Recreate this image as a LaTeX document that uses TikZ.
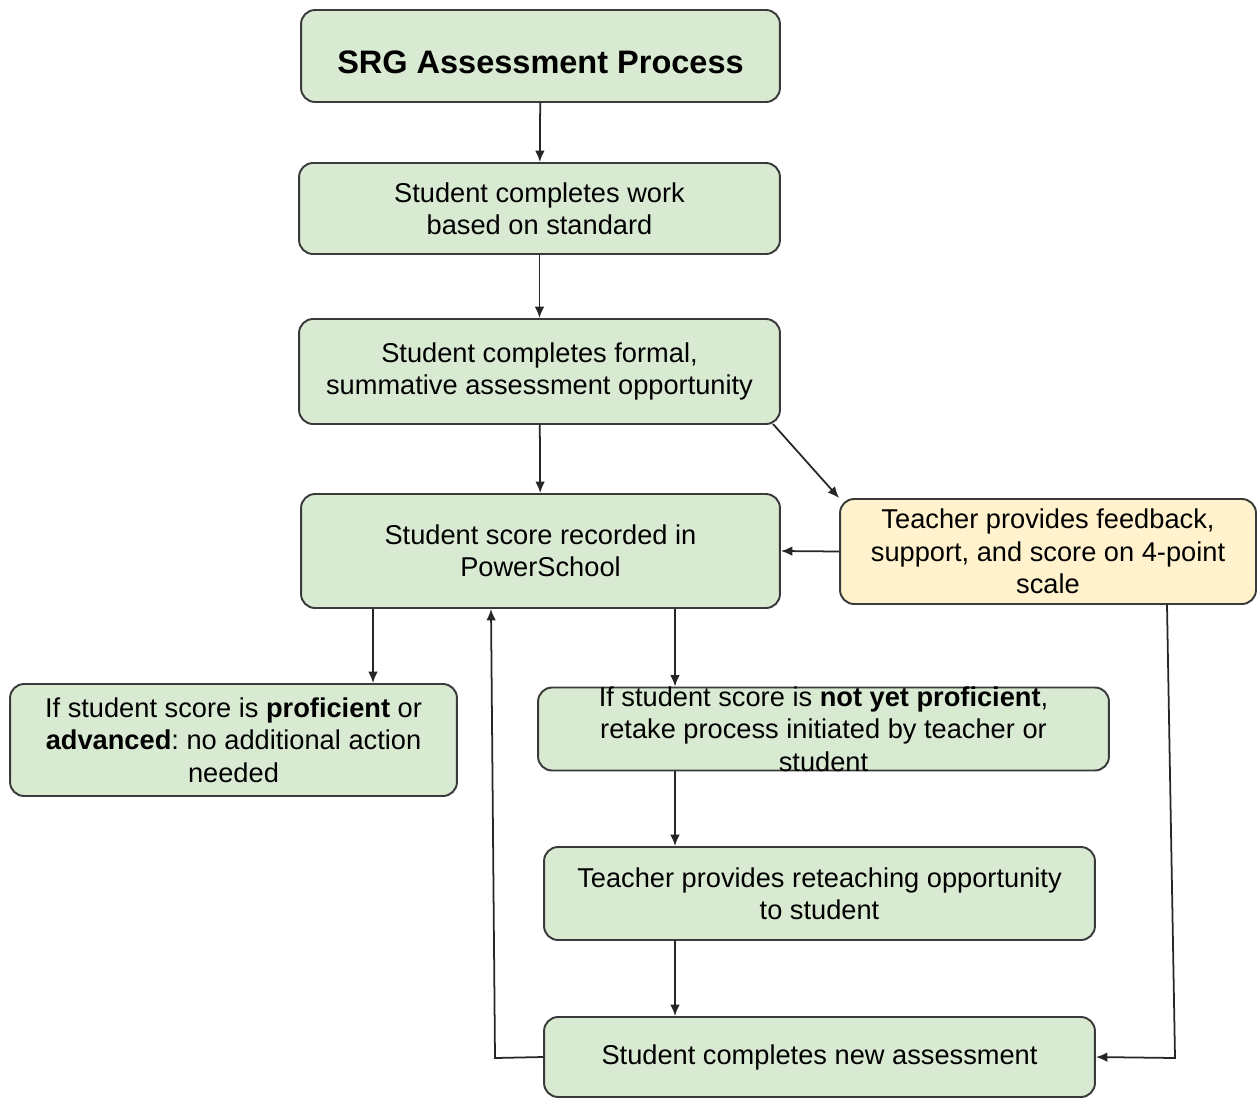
\documentclass[tikz,border=0pt]{standalone}
\usepackage{fontspec}
\setmainfont{Liberation Sans}
\usepackage{tikz}
\usetikzlibrary{positioning, arrows.meta, shapes, calc}
\definecolor{boxgreen}{HTML}{D9EAD3}
\definecolor{boxyellow}{HTML}{FFF2CC}
\definecolor{boxline}{HTML}{3A3A3A}
\frenchspacing

\begin{document}
\begin{tikzpicture}[x=0.02cm, y=-0.02cm, every node/.style={align=center}]
\tikzset{
  block/.style={
    rectangle, draw=boxline, line width=1.1pt, rounded corners=8pt, align=center,
    fill=boxgreen, inner sep=2pt,
    font=\fontsize{15.5}{18.4}\selectfont
  },
  arrow/.style={line width=1pt, draw=black!85, -{Latex[length=6.5pt,width=5.5pt]}}
}
\useasboundingbox (0,0) rectangle (1257,1099);

\node (title) [block, minimum width=9.58cm, minimum height=1.84cm, text height=20pt, font=\fontsize{18.5}{22}\selectfont\bfseries] at (540.5,56) {SRG Assessment Process};

\node (work) [block, minimum width=9.62cm, minimum height=1.82cm] at (539.5,208.5) {Student completes work \\ based on standard};

\node (formal) [block, minimum width=9.62cm, minimum height=2.1cm] at (539.5,371.5) {Student completes formal, \\ summative assessment opportunity};

\node (recorded) [block, minimum width=9.58cm, minimum height=2.28cm] at (540.5,551) {Student score recorded in \\ PowerSchool};

\node (feedback) [block, fill=boxyellow, minimum width=8.32cm, minimum height=2.1cm] at (1048,551.5) {Teacher provides feedback, \\ support, and score on 4-point \\ scale};

\node (proficient) [block, minimum width=8.94cm, minimum height=2.24cm] at (233.5,740) {If student score is \textbf{proficient} or \\ \textbf{advanced}: no additional action \\ needed};

\node (notyet) [block, minimum width=11.42cm, minimum height=1.66cm, inner ysep=-3.5pt] at (823.5,729) {If student score is \textbf{not yet proficient}, \\ retake process initiated by teacher or \\ student};

\node (reteach) [block, minimum width=11.02cm, minimum height=1.86cm] at (819.5,893.5) {Teacher provides reteaching opportunity \\ to student};

\node (newtest) [block, minimum width=11.02cm, minimum height=1.6cm] at (819.5,1057) {Student completes new assessment};

\coordinate (leftcol) at (373,0);
\coordinate (midcol) at (675,0);
\coordinate (backcol) at (491,0);
\coordinate (backturn) at (495,1058);
\coordinate (fbcol) at (1167,0);
\coordinate (fbturn) at (1175,1058);
\coordinate (diagstart) at (773,424);

\draw [arrow] (title) -- (work);
\draw [arrow] (work) -- (formal);
\draw [arrow] (formal) -- (recorded);
\draw [arrow] (diagstart) -- (feedback.north west);
\draw [arrow] (feedback.west) -- (recorded.east);
\draw [arrow] (recorded.south -| leftcol) -- (proficient.north -| leftcol);
\draw [arrow] (recorded.south -| midcol) -- (notyet.north -| midcol);
\draw [arrow] (notyet.south -| midcol) -- (reteach.north -| midcol);
\draw [arrow] (reteach.south -| midcol) -- (newtest.north -| midcol);
\draw [arrow] (feedback.south -| fbcol) -- (fbturn) -- (newtest.east);
\draw [arrow] (newtest.west) -- (backturn) -- (recorded.south -| backcol);
\end{tikzpicture}
\end{document}
